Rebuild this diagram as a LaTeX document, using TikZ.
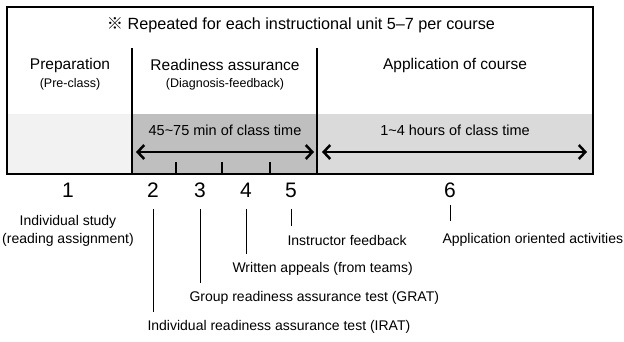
\documentclass[tikz,border=0pt]{standalone}
\usepackage{fontspec}
\setmainfont{Liberation Sans}
\newfontfamily\cjk{Noto Sans CJK KR}
\usetikzlibrary{arrows.meta}
\definecolor{prepgray}{RGB}{242,242,242}
\definecolor{ragray}{RGB}{191,191,191}
\definecolor{appgray}{RGB}{218,218,218}

\begin{document}
\begin{tikzpicture}[
    x=1pt, y=-1pt,
    >={Straight Barb[length=6.5pt,width=14pt]},
    title/.style={font=\fontsize{16.2}{19}\selectfont},
    phase/.style={font=\fontsize{15.5}{18}\selectfont},
    sub/.style={font=\fontsize{12.5}{15}\selectfont},
    span/.style={font=\fontsize{14.5}{17}\selectfont},
    num/.style={font=\fontsize{21}{24}\selectfont},
    lbl/.style={font=\fontsize{14}{16}\selectfont, anchor=west},
    timeline/.style={<->, line width=2.5pt},
    leader/.style={line width=0.6pt, shorten <=8pt, shorten >=5pt},
]
\useasboundingbox (0,0) rectangle (624,341);

% shaded time band
\fill[prepgray] (7,114) rectangle (132,174);
\fill[ragray] (132,114) rectangle (317,174);
\fill[appgray] (317,114) rectangle (593,174);
\draw[line width=2pt] (7,7) rectangle (593,174);
\draw[line width=2pt] (132,48) -- (132,174);
\draw[line width=2pt] (317,48) -- (317,174);

\node[title] (T) at (301,25) {{\cjk ※} Repeated for each instructional unit 5–7 per course};

\node[phase] (P) at (70,65) {Preparation};
\node[sub] (Psub) at (70,84) {(Pre-class)};
\node[phase] (R) at (225,65) {Readiness assurance};
\node[sub] (Rsub) at (225,84) {(Diagnosis-feedback)};
\node[phase] (A) at (455,65) {Application of course};

\node[span] (Rtime) at (225,130) {45\textasciitilde 75 min of class time};
\node[span] (Atime) at (455,130) {1\textasciitilde 4 hours of class time};

\coordinate (raL) at (136,152);
\coordinate (raR) at (314,152);
\coordinate (apL) at (322,152);
\coordinate (apR) at (587,152);
\draw[timeline] (raL) -- (raR);
\draw[timeline] (apL) -- (apR);
\foreach \x in {176,222,270}
  \draw[line width=2pt] (\x,162) -- (\x,174);

% steps
\node[num] (n1) at (68,190) {1};
\node[num] (n2) at (153,190) {2};
\node[num] (n3) at (200,190) {3};
\node[num] (n4) at (246,190) {4};
\node[num] (n5) at (291,190) {5};
\node[num] (n6) at (450,190) {6};

\node[font=\fontsize{14}{18}\selectfont, align=center] (study) at (68,231) {Individual study\\(reading assignment)};
\node[lbl] (feedback) at (284,240) {Instructor feedback};
\node[lbl] (activities) at (439,240) {Application oriented activities};
\node[lbl] (appeals) at (229,269) {Written appeals (from teams)};
\node[lbl] (grat) at (186,298) {Group readiness assurance test (GRAT)};
\node[lbl] (irat) at (144,327) {Individual readiness assurance test (IRAT)};

\draw[leader] (n2.south) -- (n2.south |- irat.north);
\draw[leader] (n3.south) -- (n3.south |- grat.north);
\draw[leader] (n4.south) -- (n4.south |- appeals.north);
\draw[leader] (n5.south) -- (n5.south |- feedback.north);
\draw[leader, shorten <=4pt, shorten >=9pt] (n6.south) -- (n6.south |- activities.north);
\end{tikzpicture}
\end{document}
